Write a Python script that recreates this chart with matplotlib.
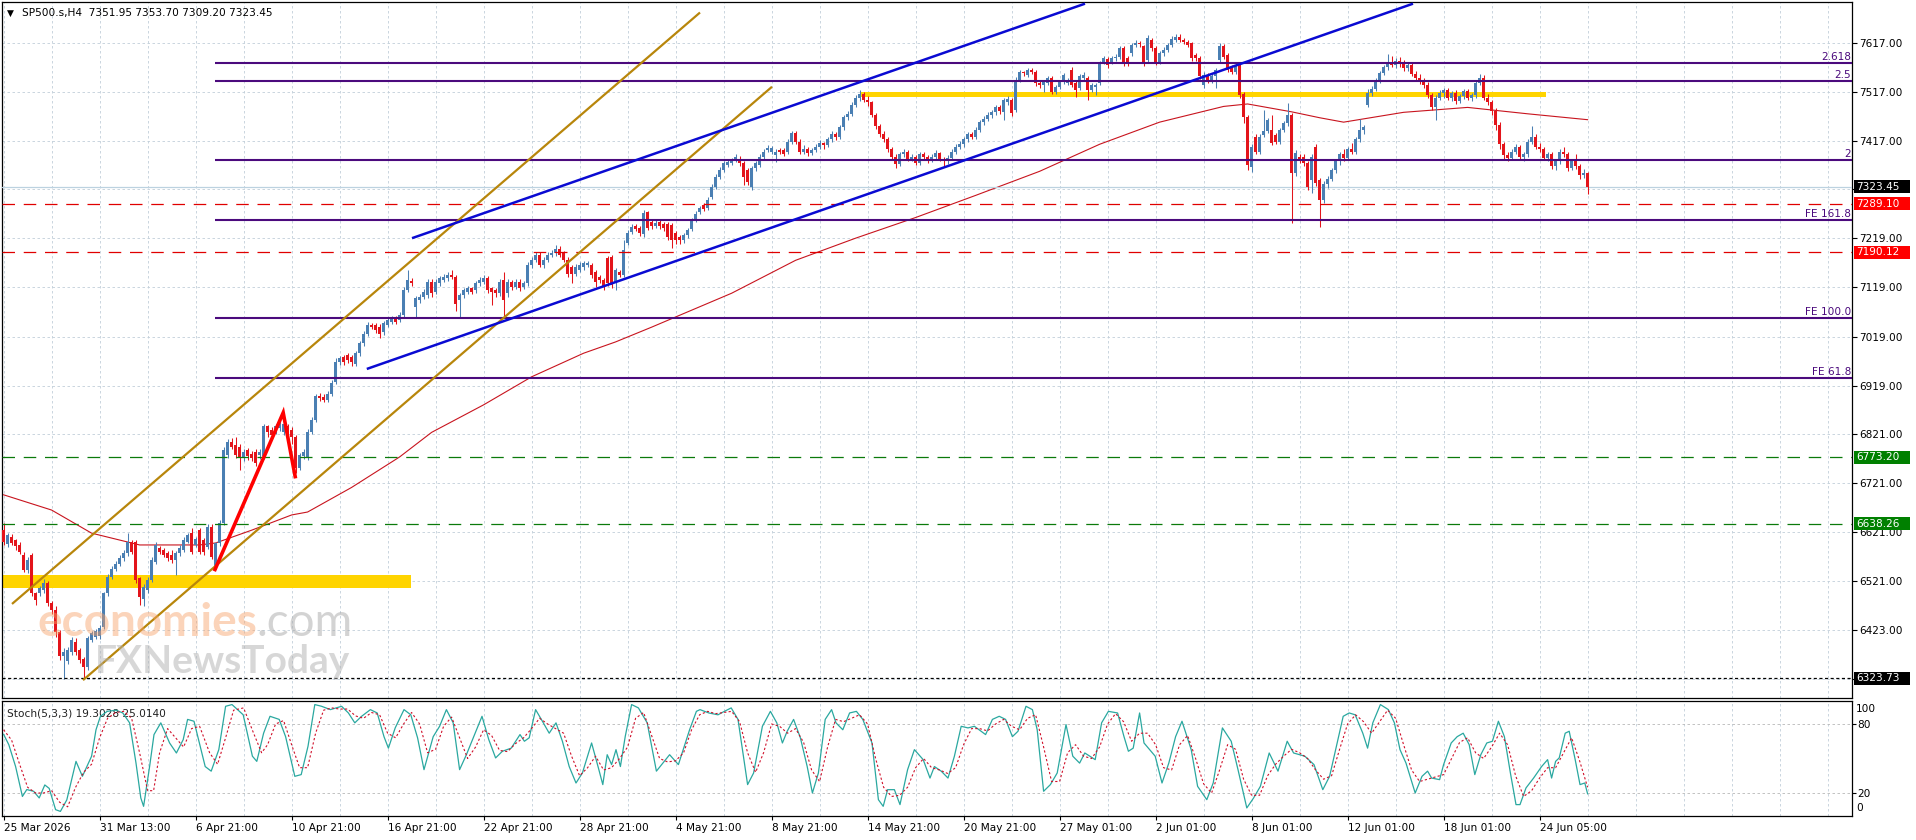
import numpy as np
import matplotlib
matplotlib.use("Agg")
import matplotlib.pyplot as plt
from matplotlib.patches import Rectangle
from matplotlib.transforms import blended_transform_factory

plt.rcParams['font.family'] = ['DejaVu Sans']

# ---------------- data (H4 bars, bar 0 = 25 Mar 2026) ----------------
opens = [
    6625, 6596, 6612, 6605, 6595, 6575, 6545, 6574, 6497, 6497,
    6503, 6517, 6476, 6463, 6418, 6370, 6358, 6378, 6398, 6381,
    6364, 6347, 6402, 6408, 6410, 6428, 6497, 6530, 6547, 6557,
    6568, 6578, 6602, 6602, 6527, 6486, 6503, 6524, 6561, 6588,
    6585, 6578, 6575, 6564, 6578, 6585, 6602, 6619, 6595, 6625,
    6605, 6591, 6632, 6551, 6598, 6640, 6778, 6805, 6798, 6795,
    6771, 6788, 6781, 6785, 6778, 6775, 6836, 6828, 6825, 6832,
    6825, 6836, 6829, 6815, 6752, 6775, 6772, 6825, 6849, 6897,
    6896, 6890, 6903, 6927, 6968, 6978, 6981, 6978, 6964, 6985,
    7005, 7025, 7042, 7042, 7039, 7029, 7042, 7049, 7056, 7052,
    7063, 7114, 7131, 7080, 7093, 7100, 7103, 7130, 7110, 7127,
    7134, 7137, 7144, 7141, 7093, 7103, 7110, 7117, 7114, 7127,
    7130, 7137, 7117, 7114, 7107, 7134, 7107, 7130, 7120, 7130,
    7120, 7127, 7164, 7175, 7185, 7164, 7175, 7185, 7188, 7198,
    7188, 7175, 7161, 7147, 7154, 7161, 7164, 7164, 7151, 7141,
    7134, 7178, 7181, 7127, 7151, 7144, 7210, 7232, 7244, 7240,
    7228, 7272, 7252, 7244, 7252, 7248, 7248, 7245, 7230, 7222,
    7215, 7225, 7238, 7256, 7272, 7286, 7280, 7303, 7324, 7344,
    7358, 7368, 7371, 7378, 7381, 7371, 7358, 7324, 7361, 7368,
    7385, 7398, 7395, 7388, 7398, 7398, 7395, 7415, 7432, 7415,
    7395, 7400, 7392, 7398, 7405, 7412, 7408, 7420, 7430, 7425,
    7445, 7465, 7472, 7490, 7505, 7512, 7500, 7495, 7470, 7448,
    7430, 7420, 7400, 7385, 7370, 7390, 7395, 7380, 7385, 7372,
    7390, 7385, 7378, 7385, 7392, 7380, 7375, 7382, 7395, 7405,
    7410, 7420, 7430, 7425, 7440, 7455, 7462, 7470, 7475, 7485,
    7476, 7497, 7500, 7480, 7541, 7556, 7551, 7561, 7558, 7534,
    7531, 7534, 7544, 7517, 7527, 7537, 7534, 7561, 7534, 7524,
    7544, 7544, 7520, 7527, 7534, 7578, 7583, 7578, 7585, 7588,
    7605, 7585, 7595, 7612, 7617, 7609, 7582, 7622, 7605, 7578,
    7595, 7602, 7612, 7622, 7629, 7622, 7619, 7615, 7592, 7585,
    7531, 7551, 7539, 7548, 7582, 7609, 7592, 7568, 7558, 7571,
    7512, 7466, 7364, 7425, 7395, 7429, 7436, 7439, 7429, 7415,
    7439, 7453, 7470, 7351, 7385, 7385, 7371, 7337, 7405, 7337,
    7297, 7330, 7340, 7358, 7375, 7390, 7382, 7400, 7395, 7420,
    7440, 7490, 7515, 7522, 7540, 7555, 7568, 7578, 7572, 7580,
    7574, 7565, 7572, 7552, 7545, 7538, 7530, 7510, 7485, 7505,
    7515, 7520, 7505, 7515, 7498, 7508, 7518, 7505, 7510, 7535,
    7545, 7505, 7495, 7478, 7450, 7410, 7388, 7382, 7395, 7405,
    7385, 7390, 7415, 7425, 7405, 7400, 7382, 7390, 7365, 7375,
    7395, 7390, 7362, 7375, 7365, 7348, 7351.95,
]
highs = [
    6640, 6620, 6618, 6608, 6600, 6580, 6570, 6578, 6500, 6512,
    6525, 6522, 6480, 6470, 6422, 6385, 6388, 6408, 6405, 6386,
    6368, 6410, 6420, 6425, 6432, 6500, 6535, 6552, 6562, 6575,
    6585, 6619, 6606, 6606, 6530, 6515, 6530, 6570, 6600, 6592,
    6588, 6582, 6585, 6582, 6595, 6612, 6620, 6630, 6612, 6630,
    6610, 6637, 6637, 6600, 6645, 6795, 6810, 6812, 6815, 6800,
    6790, 6792, 6786, 6790, 6790, 6842, 6840, 6835, 6842, 6848,
    6850, 6842, 6835, 6818, 6782, 6790, 6830, 6855, 6903, 6905,
    6902, 6908, 6930, 6975, 6980, 6982, 6986, 6982, 6990, 7010,
    7030, 7048, 7046, 7046, 7044, 7050, 7056, 7060, 7060, 7068,
    7120, 7154, 7138, 7102, 7105, 7115, 7136, 7136, 7135, 7142,
    7146, 7150, 7154, 7145, 7108, 7118, 7122, 7120, 7132, 7140,
    7144, 7142, 7120, 7118, 7135, 7150, 7135, 7134, 7135, 7135,
    7132, 7170, 7180, 7190, 7190, 7180, 7190, 7195, 7205, 7203,
    7193, 7180, 7165, 7166, 7170, 7172, 7172, 7168, 7155, 7145,
    7138, 7182, 7185, 7158, 7155, 7215, 7235, 7247, 7248, 7244,
    7276, 7275, 7256, 7255, 7256, 7252, 7252, 7249, 7234, 7226,
    7230, 7240, 7260, 7274, 7285, 7290, 7302, 7330, 7350, 7363,
    7376, 7380, 7383, 7390, 7386, 7375, 7362, 7366, 7376, 7390,
    7400, 7409, 7407, 7400, 7402, 7402, 7420, 7437, 7438, 7420,
    7408, 7404, 7403, 7410, 7418, 7415, 7425, 7436, 7434, 7450,
    7470, 7478, 7495, 7510, 7520, 7516, 7508, 7498, 7474, 7452,
    7436, 7424, 7404, 7390, 7395, 7400, 7398, 7390, 7388, 7395,
    7394, 7388, 7390, 7398, 7395, 7384, 7388, 7400, 7410, 7416,
    7425, 7435, 7434, 7445, 7460, 7468, 7475, 7480, 7490, 7490,
    7505, 7508, 7505, 7546, 7562, 7560, 7566, 7566, 7562, 7538,
    7541, 7548, 7548, 7531, 7541, 7555, 7545, 7568, 7538, 7552,
    7556, 7548, 7535, 7535, 7580, 7590, 7587, 7590, 7593, 7610,
    7609, 7590, 7616, 7622, 7621, 7612, 7632, 7626, 7609, 7600,
    7607, 7616, 7630, 7634, 7634, 7626, 7623, 7618, 7596, 7590,
    7556, 7555, 7552, 7565, 7615, 7613, 7596, 7572, 7575, 7575,
    7516, 7470, 7410, 7430, 7430, 7480, 7464, 7470, 7433, 7444,
    7458, 7493, 7474, 7398, 7390, 7390, 7375, 7390, 7410, 7342,
    7335, 7345, 7362, 7380, 7395, 7400, 7405, 7412, 7425, 7462,
    7450, 7522, 7528, 7545, 7560, 7572, 7594, 7590, 7585, 7588,
    7582, 7578, 7576, 7560, 7552, 7545, 7536, 7515, 7510, 7520,
    7525, 7524, 7518, 7520, 7512, 7522, 7522, 7515, 7540, 7552,
    7550, 7512, 7500, 7484, 7455, 7415, 7395, 7400, 7410, 7408,
    7395, 7420, 7447, 7430, 7412, 7404, 7395, 7394, 7380, 7400,
    7405, 7395, 7380, 7390, 7370, 7360, 7353.70,
]
lows = [
    6595, 6590, 6594, 6585, 6576, 6540, 6538, 6492, 6473, 6492,
    6498, 6470, 6455, 6408, 6360, 6322, 6352, 6372, 6372, 6355,
    6322, 6340, 6398, 6403, 6404, 6425, 6492, 6525, 6542, 6552,
    6562, 6572, 6576, 6518, 6472, 6470, 6498, 6520, 6556, 6576,
    6570, 6562, 6558, 6534, 6572, 6580, 6598, 6576, 6590, 6576,
    6575, 6586, 6566, 6546, 6592, 6635, 6772, 6790, 6772, 6748,
    6765, 6768, 6765, 6755, 6770, 6770, 6815, 6812, 6820, 6826,
    6818, 6812, 6800, 6742, 6748, 6770, 6768, 6820, 6845, 6888,
    6885, 6885, 6898, 6922, 6962, 6962, 6965, 6960, 6958, 6980,
    7000, 7020, 7034, 7027, 7015, 7022, 7038, 7044, 7045, 7048,
    7058, 7110, 7122, 7059, 7088, 7095, 7098, 7100, 7105, 7122,
    7130, 7132, 7136, 7070, 7059, 7098, 7105, 7105, 7108, 7122,
    7125, 7108, 7083, 7100, 7102, 7059, 7100, 7114, 7115, 7112,
    7115, 7122, 7158, 7170, 7160, 7158, 7170, 7180, 7183, 7180,
    7170, 7140, 7127, 7142, 7150, 7155, 7160, 7138, 7120, 7128,
    7113, 7122, 7118, 7113, 7140, 7140, 7205, 7228, 7233, 7224,
    7222, 7235, 7238, 7240, 7238, 7234, 7216, 7200, 7208, 7208,
    7210, 7220, 7234, 7252, 7268, 7274, 7276, 7298, 7320, 7340,
    7354, 7364, 7367, 7374, 7366, 7327, 7328, 7318, 7356, 7364,
    7380, 7394, 7390, 7374, 7390, 7386, 7390, 7410, 7410, 7390,
    7390, 7386, 7388, 7394, 7400, 7400, 7404, 7415, 7418, 7420,
    7440, 7460, 7468, 7485, 7498, 7495, 7488, 7465, 7442, 7425,
    7415, 7395, 7378, 7362, 7366, 7385, 7375, 7376, 7368, 7368,
    7380, 7372, 7374, 7380, 7375, 7366, 7370, 7378, 7390, 7400,
    7405, 7415, 7420, 7420, 7435, 7450, 7458, 7464, 7470, 7472,
    7459, 7490, 7468, 7475, 7536, 7548, 7546, 7552, 7528, 7525,
    7517, 7530, 7512, 7512, 7522, 7532, 7530, 7526, 7507, 7520,
    7540, 7500, 7516, 7510, 7530, 7574, 7566, 7574, 7580, 7584,
    7570, 7570, 7590, 7608, 7608, 7570, 7578, 7600, 7572, 7573,
    7590, 7598, 7608, 7618, 7618, 7614, 7607, 7580, 7580, 7542,
    7524, 7534, 7534, 7524, 7578, 7583, 7556, 7552, 7553, 7505,
    7453, 7358, 7354, 7390, 7390, 7425, 7432, 7408, 7410, 7410,
    7434, 7448, 7250, 7345, 7372, 7365, 7318, 7310, 7325, 7241,
    7290, 7322, 7335, 7352, 7368, 7375, 7378, 7390, 7390, 7415,
    7430, 7485, 7508, 7518, 7535, 7550, 7562, 7568, 7566, 7568,
    7560, 7560, 7548, 7540, 7532, 7525, 7505, 7480, 7460, 7500,
    7505, 7500, 7498, 7492, 7494, 7502, 7500, 7498, 7505, 7530,
    7500, 7490, 7470, 7440, 7400, 7380, 7375, 7378, 7390, 7380,
    7375, 7385, 7410, 7400, 7395, 7378, 7375, 7360, 7358, 7370,
    7385, 7355, 7358, 7360, 7340, 7342, 7309.20,
]
closes = [
    6600, 6615, 6598, 6592, 6581, 6544, 6565, 6497, 6483, 6507,
    6517, 6476, 6463, 6418, 6370, 6378, 6381, 6402, 6378, 6361,
    6347, 6405, 6415, 6419, 6426, 6497, 6530, 6547, 6557, 6568,
    6578, 6602, 6581, 6524, 6490, 6510, 6524, 6564, 6595, 6581,
    6575, 6568, 6564, 6578, 6588, 6605, 6615, 6581, 6608, 6581,
    6581, 6632, 6571, 6598, 6639, 6788, 6805, 6795, 6778, 6771,
    6785, 6775, 6771, 6761, 6785, 6836, 6825, 6818, 6836, 6842,
    6842, 6819, 6815, 6752, 6778, 6785, 6825, 6849, 6897, 6893,
    6890, 6903, 6924, 6968, 6975, 6968, 6971, 6968, 6985, 7005,
    7025, 7042, 7039, 7032, 7025, 7046, 7052, 7056, 7049, 7063,
    7114, 7134, 7127, 7097, 7100, 7110, 7130, 7107, 7130, 7137,
    7141, 7144, 7141, 7086, 7103, 7114, 7117, 7110, 7127, 7134,
    7137, 7114, 7110, 7107, 7130, 7093, 7130, 7120, 7130, 7117,
    7127, 7164, 7175, 7185, 7164, 7175, 7185, 7188, 7198, 7185,
    7175, 7147, 7147, 7161, 7164, 7168, 7168, 7144, 7130, 7134,
    7120, 7127, 7124, 7154, 7144, 7195, 7230, 7242, 7238, 7230,
    7270, 7240, 7244, 7250, 7244, 7239, 7222, 7215, 7215, 7215,
    7225, 7235, 7256, 7269, 7280, 7279, 7297, 7324, 7344, 7358,
    7371, 7374, 7378, 7385, 7371, 7344, 7334, 7361, 7371, 7385,
    7395, 7402, 7402, 7395, 7395, 7391, 7415, 7432, 7415, 7395,
    7400, 7392, 7398, 7405, 7412, 7408, 7420, 7430, 7425, 7445,
    7465, 7472, 7490, 7505, 7512, 7500, 7495, 7470, 7448, 7430,
    7420, 7400, 7385, 7370, 7390, 7395, 7380, 7385, 7372, 7390,
    7385, 7378, 7385, 7392, 7380, 7375, 7382, 7395, 7405, 7410,
    7420, 7430, 7425, 7440, 7455, 7462, 7470, 7475, 7485, 7478,
    7500, 7503, 7473, 7541, 7558, 7554, 7561, 7558, 7534, 7531,
    7537, 7544, 7517, 7527, 7537, 7551, 7541, 7531, 7520, 7548,
    7551, 7520, 7531, 7531, 7575, 7585, 7571, 7585, 7588, 7605,
    7576, 7575, 7612, 7617, 7614, 7575, 7626, 7605, 7578, 7595,
    7602, 7612, 7625, 7629, 7622, 7619, 7612, 7585, 7585, 7548,
    7551, 7539, 7548, 7561, 7609, 7588, 7561, 7558, 7571, 7510,
    7466, 7368, 7405, 7395, 7425, 7436, 7459, 7412, 7415, 7439,
    7453, 7470, 7351, 7392, 7378, 7371, 7324, 7385, 7331, 7297,
    7330, 7340, 7358, 7375, 7390, 7382, 7400, 7395, 7420, 7440,
    7445, 7515, 7522, 7540, 7555, 7568, 7578, 7572, 7580, 7574,
    7565, 7572, 7552, 7545, 7538, 7530, 7510, 7485, 7505, 7515,
    7520, 7505, 7515, 7498, 7508, 7518, 7505, 7510, 7535, 7545,
    7505, 7495, 7478, 7450, 7410, 7388, 7382, 7395, 7405, 7385,
    7390, 7415, 7425, 7405, 7400, 7382, 7390, 7365, 7375, 7395,
    7390, 7362, 7375, 7365, 7348, 7352, 7323.45,
]

# red moving average, read at a few points (bar index, price)
ma_bars = [0, 12, 22, 34, 49, 53, 62, 72, 76, 87, 99, 107, 120, 132, 145, 153, 162,
           182, 198, 213, 228, 243, 259, 274, 289, 305, 311, 322, 329, 335, 350, 366, 381, 396]
ma_vals = [6697, 6666, 6619, 6595, 6595, 6599, 6625, 6656, 6662, 6712, 6774, 6824, 6880,
           6937, 6985, 7008, 7038, 7107, 7174, 7219, 7261, 7306, 7355, 7410, 7455, 7487,
           7492, 7476, 7464, 7455, 7475, 7485, 7472, 7460]

# stochastic %K (solid) and %D (dotted) read at turning points
k_bars = [0, 1.3, 3, 4.7, 5.8, 7.5, 8.9, 10.3, 11.4, 13, 14.2, 15.8, 18.1, 19.7, 22, 23.1, 24.2,
          25.9, 28.1, 29.8, 31.5, 33.1, 34.3, 35, 36.5, 37.6, 39.3, 41.5, 43.2, 44.9, 46, 47.6,
          50.4, 51.9, 53.8, 55.5, 57.1, 59.9, 62.2, 63.3, 65, 66.6, 68.9, 70.5, 72.8, 74.4, 76.1,
          77.8, 79.5, 81.7, 84.5, 86.2, 87.8, 89.5, 91.7, 93.4, 95.1, 96.2, 97.9, 100.1, 101.8,
          103.5, 105.1, 107.4, 109, 110.7, 112.4, 114, 115.7, 117.4, 119.6, 121.3, 123, 124.7,
          126.9, 129.1, 130.2, 131.4, 133, 134.7, 136.4, 138.1, 139.7, 141.4, 143.1, 144.7, 147,
          148.7, 149.8, 150.9, 152, 153.1, 154.2, 155.4, 157, 158.7, 160.9, 163.2, 164.8, 166.5,
          168.7, 171.5, 173.2, 174.1, 176.3, 178.6, 180.2, 181.9, 183.6, 186, 187.5, 189.7, 191.7,
          193.3, 194.7, 195.9, 197.5, 199.2, 200.9, 202.2, 203.7, 205.4, 207, 208.1, 209.8, 211.5,
          213.2, 214.8, 217.1, 218.7, 219.9, 221, 222.7, 224.1, 226, 227.7, 229.9, 231.6, 232.7,
          234.4, 236.1, 237.7, 239.4, 241.1, 242.7, 244.4, 245.5, 247.2, 248.9, 250.5, 252.2,
          253.6, 255.6, 257.2, 258.4, 260, 261.7, 263.4, 265.6, 267.3, 269, 270.3, 272.9, 274.5,
          276.2, 278.5, 280.1, 281.2, 282.4, 284, 285.1, 287.9, 289.6, 291.3, 293, 294.6, 296.9,
          298.5, 300.8, 302.4, 304.7, 306.9, 308.6, 310.8, 312.5, 314.2, 316.4, 318.6, 320.9,
          322.5, 325.3, 327.6, 329.8, 331.5, 333.4, 334.9, 336.4, 337.9, 339.8, 341, 342.3, 344.2,
          346.2, 347.7, 349.1, 350.6, 352.9, 354.6, 356, 357, 359, 360, 361.9, 363.4, 364.9,
          366.4, 367.8, 369.3, 370.8, 372.2, 373.7, 375.2, 376.7, 378.1, 379.1, 380.6, 382.5,
          384.5, 386, 387, 388, 388.9, 390.4, 391.4, 392.9, 394.1, 395.3, 396]
k_vals = [71, 62, 43, 17, 23, 21.5, 15.7, 27, 24, 5.5, 4, 14, 47.5, 34.5, 52, 75, 86.7,
          91, 92, 89.6, 81, 46, 15.7, 8.4, 43, 70.8, 81, 63.5, 54.8, 66.4, 84, 82.4,
          43, 39, 57.7, 95.4, 96.9, 88, 52, 47.5, 72, 86.7, 84, 69, 34.5, 36, 60.6,
          96.9, 95.4, 92.5, 95.4, 89.6, 81, 86.7, 92.5, 89.6, 69, 59, 76.6, 92.5, 88,
          67.9, 40.3, 69, 78, 92.5, 81, 40.3, 53.3, 67.9, 86.7, 66.4, 50.5, 56.3,
          59, 70.8, 65, 68, 92.5, 82.4, 72, 81, 65, 43, 28.7, 37.4, 63.5,
          41.8, 27.3, 53.3, 44.7, 57.7, 43, 69, 96.9, 94, 81, 39, 46, 53.3,
          44.7, 75, 91, 92.5, 89.6, 88, 91, 94, 84, 27.3, 37.4, 78, 91,
          81, 63.5, 73.7, 84, 67.9, 43, 20, 37.4, 84, 92.5, 81, 75, 89.6,
          91, 84, 63.5, 14.2, 8.4, 22.9, 22.9, 9.9, 40.3, 57.7, 49, 33, 43,
          39, 33, 52, 78, 76.6, 78, 73.7, 70.8, 84, 86.7, 84, 69,
          73.7, 95.4, 92.5, 75, 21.5, 27.3, 37.4, 79.5, 52, 46, 54.8, 49, 81,
          91, 89.6, 69, 56.3, 59, 89.6, 63.5, 52, 28.7, 46, 69, 82.4, 57.7,
          25.8, 14.2, 28.7, 76.6, 65, 40.3, 7, 15.7, 25.8, 54.8, 39, 65,
          54.8, 52, 44.7, 22.9, 34.5, 63.5, 86.7, 89.6, 88, 72, 59, 81, 96.9,
          92.5, 81, 57.7, 46, 20, 34.5, 39, 33, 31.6, 44.7, 63.5, 69, 72,
          62, 36, 53.3, 63.5, 65, 82.4, 69, 37.4, 9.9, 9.9, 24.4, 33,
          43, 49, 33, 47.5, 50.5, 72, 73.7, 49, 27.3, 28.7, 19.3]
d_bars = [0, 2, 4, 6, 8, 10, 12, 14, 16, 18, 20, 22, 24, 26, 28, 30, 32, 34, 36, 37.5, 39,
          41, 43, 45, 47, 49, 51.5, 53.5, 55.5, 57.5, 60, 62.5, 64.5, 66, 68, 70, 72, 74, 76,
          78, 80, 82, 84, 86, 88, 90, 92, 94, 96, 98, 100, 102, 104, 106, 108, 110, 112, 114,
          116, 118, 120, 122, 124, 126, 128, 130, 132, 134, 136, 138, 140, 142, 144, 146, 148,
          150, 152, 154, 156, 158, 160, 162, 164, 166, 168, 170, 172, 174, 176, 178, 180, 182,
          184, 186, 188, 190, 192, 194, 196, 198, 200, 202, 204, 206, 208, 210, 212, 214, 216,
          218, 220, 222, 224, 226, 228, 230, 232, 234, 236, 238, 240, 242, 244, 246, 248, 250,
          252, 254, 256, 258, 260, 262, 264, 266, 268, 270, 272, 274, 276, 278, 280, 282, 284,
          286, 288, 290, 292, 294, 296, 298, 300, 302, 304, 306, 308, 310, 312, 314, 316, 318,
          320, 322, 324, 326, 328, 330, 332, 334, 336, 338, 340, 342, 344, 346, 348, 350, 352,
          354, 356, 358, 360, 362, 364, 366, 368, 370, 372, 374, 376, 378, 380, 382, 384, 386,
          388, 390, 392, 394, 396]
d_vals = [75, 66, 45, 25, 20, 20, 22, 12, 8, 25, 38, 45, 68, 85, 90, 91, 85, 55, 22, 22, 55,
          76, 68, 60, 76, 78, 55, 45, 68, 92, 94, 72, 55, 62, 80, 83, 62, 42, 42,
          72, 92, 94, 93, 93, 87, 85, 90, 88, 72, 68, 80, 90, 80, 55, 58, 78, 86, 68,
          50, 60, 75, 70, 57, 56, 63, 68, 76, 85, 80, 76, 72, 52, 35, 42, 52,
          40, 42, 50, 60, 85, 90, 70, 50, 47, 48, 55, 75, 88, 91, 89, 90, 91,
          82, 55, 38, 55, 80, 78, 72, 76, 64, 40, 30, 60, 84, 82, 85, 88, 80,
          50, 25, 17, 18, 25, 42, 50, 42, 40, 37, 42, 62, 76, 76, 74, 80, 84,
          78, 75, 85, 88, 60, 30, 30, 55, 62, 52, 50, 60, 80, 89, 82, 65, 72,
          72, 62, 42, 40, 62, 70, 50, 28, 20, 40, 62, 58, 32, 18, 18, 35, 45,
          52, 58, 55, 50, 40, 32, 35, 58, 80, 88, 82, 72, 82, 92, 85, 62, 40,
          30, 32, 34, 36, 50, 64, 68, 55, 50, 60, 72, 62, 35, 17, 22, 33, 42,
          42, 55, 68, 48, 25]

# drawn objects
fe_levels = [7576, 7539, 7378, 7255, 7057, 6935]
fe_labels = ['2.618', '2.5', '2', 'FE 161.8', 'FE 100.0', 'FE 61.8']
fe_start = 52.85
red_levels = [7289.10, 7190.12]
green_levels = [6773.20, 6638.26]
low_level = 6323.73
last_price = 7323.45
channel_upper = ([2.1, 174.1], [6475, 7678])
channel_lower = ([19.85, 192.1], [6320, 7527])
blue_upper = ([102.1, 270.35], [7219, 7696])
blue_lower = ([90.8, 352.35], [6953, 7696])
zigzag = ([52.85, 69.9, 72.9], [6545, 6864, 6734])
zone_low = (-0.4, 101.8, 6520, 26)      # x0, x1, centre price, thickness
zone_high = (214.4, 385.6, 7512, 10)

price_ticks = [7617, 7517, 7417, 7319, 7219, 7119, 7019, 6919, 6821, 6721, 6621, 6521, 6423, 6323]
date_labels = ['25 Mar 2026', '31 Mar 13:00', '6 Apr 21:00', '10 Apr 21:00', '16 Apr 21:00',
               '22 Apr 21:00', '28 Apr 21:00', '4 May 21:00', '8 May 21:00', '14 May 21:00',
               '20 May 21:00', '27 May 01:00', '2 Jun 01:00', '8 Jun 01:00', '12 Jun 01:00',
               '18 Jun 01:00', '24 Jun 05:00']

# ---------------- figure ----------------
W, H = 1916, 840
fig = plt.figure(figsize=(W / 100, H / 100), dpi=100)
fig.patch.set_facecolor('white')
ax = fig.add_axes([2 / W, 1 - 698 / H, 1850 / W, 696 / H])
ax2 = fig.add_axes([2 / W, 1 - 816 / H, 1850 / W, 115 / H], sharex=ax)

XMAX = 462.1
ax.set_xlim(-0.4, XMAX)
ax.set_ylim(6283.7, 7699.4)
ax2.set_ylim(0, 100)

BULL = '#4a7fb3'
BEAR = '#e3141b'
GRID = '#c2cfd9'
FS = 7.6

for a in (ax, ax2):
    for s in a.spines.values():
        s.set_linewidth(0.9)
        s.set_color('black')
    a.set_xticks(np.arange(0, XMAX, 12), minor=True)
    a.grid(True, which='both', axis='x', color=GRID, lw=0.6, ls=(0, (3, 3)))

ax.set_xticks(np.arange(0, 24 * len(date_labels), 24))
ax.tick_params(axis='x', which='both', length=0, labelbottom=False)

# price axis on the right
ax.yaxis.tick_right()
ax.set_yticks(price_ticks)
ax.set_yticklabels(['%.2f' % p for p in price_ticks])
ax.tick_params(axis='y', length=3.5, width=0.8, pad=2, labelsize=FS)
ax.grid(True, axis='y', color=GRID, lw=0.6, ls=(0, (3, 3)))

# moving average
ax.plot(ma_bars, ma_vals, color='#c8141e', lw=0.8, zorder=3)

# zones (behind candles)
for x0, x1, yc, th in (zone_low, zone_high):
    ax.add_patch(Rectangle((x0, yc - th / 2), x1 - x0, th, facecolor='#ffd400',
                           edgecolor='none', zorder=2))

# candles
o = np.array(opens, float)
h = np.array(highs, float)
l = np.array(lows, float)
c = np.array(closes, float)
x = np.arange(len(c))
cols = np.where(c >= o, BULL, BEAR)
ax.vlines(x, l, h, colors=cols, lw=0.75, zorder=4)
ax.bar(x, np.maximum(np.abs(c - o), 1.2), bottom=np.minimum(o, c), width=0.74,
       color=cols, linewidth=0, zorder=4)

# horizontal lines
ax.hlines(fe_levels, fe_start, XMAX, colors='#4b0a7d', lw=1.5, zorder=5)
bt = blended_transform_factory(ax.transAxes, ax.transData)
for lev, lab in zip(fe_levels, fe_labels):
    ax.text(0.9995, lev + 2, lab, transform=bt, ha='right', va='bottom',
            fontsize=FS, color='#4b0a7d', zorder=6)
for lev in red_levels:
    ax.axhline(lev, color='#e00000', lw=0.9, ls=(0, (10, 7)), zorder=5)
for lev in green_levels:
    ax.axhline(lev, color='#0b7a0b', lw=0.9, ls=(0, (10, 7)), zorder=5)
ax.axhline(low_level, color='black', lw=0.9, ls=(0, (2.5, 2)), zorder=5)
ax.axhline(last_price, color='#bcd2e0', lw=0.9, zorder=3)

# trend lines / channel / zigzag
for xs, ys in (channel_upper, channel_lower):
    ax.plot(xs, ys, color='#b8860b', lw=1.6, zorder=6, solid_capstyle='butt')
for xs, ys in (blue_upper, blue_lower):
    ax.plot(xs, ys, color='#0a0ad2', lw=1.8, zorder=6, solid_capstyle='butt')
ax.plot(zigzag[0], zigzag[1], color='#ff0000', lw=2.6, zorder=7, solid_joinstyle='miter')

# price boxes on the right axis
box_w = 56 / 1850
box_h = 13 * 2.034
for lev, fc in ((last_price, 'black'), (red_levels[0], '#ff0000'), (red_levels[1], '#ff0000'),
                (green_levels[0], '#008000'), (green_levels[1], '#008000'), (low_level, 'black')):
    ax.add_patch(Rectangle((1 + 2 / 1850, lev - box_h / 2), box_w, box_h, transform=bt,
                           facecolor=fc, edgecolor='none', clip_on=False, zorder=8))
    ax.text(1 + 4 / 1850, lev, '%.2f' % lev, transform=bt, ha='left', va='center',
            fontsize=FS, color='white', clip_on=False, zorder=9)

# stochastic panel
ax2.plot(k_bars, k_vals, color='#2aa8a0', lw=0.9, zorder=4)
ax2.plot(d_bars, d_vals, color='#d0102a', lw=0.8, ls=(0, (2, 2)), zorder=4)
ax2.set_yticks([80, 20])
ax2.set_yticklabels(['80', '20'])
ax2.yaxis.tick_right()
ax2.tick_params(axis='y', length=3, width=0.8, pad=0.5, labelsize=FS)
ax2.grid(True, axis='y', color='#b8b8b8', lw=0.6, ls=(0, (3, 3)))
bt2 = blended_transform_factory(ax2.transAxes, ax2.transData)
ax2.text(1 + 4 / 1850, 93, '100', transform=bt2, ha='left', va='center', fontsize=FS)
ax2.text(1 + 4 / 1850, 7, '0', transform=bt2, ha='left', va='center', fontsize=FS)
ax2.text(5 / 1850, 89, 'Stoch(5,3,3) 19.3028 25.0140', transform=bt2, ha='left',
         va='center', fontsize=FS, color='#202020')

ax2.set_xticks(np.arange(0, 24 * len(date_labels), 24))
ax2.set_xticklabels(date_labels, ha='left', fontsize=FS)
ax2.tick_params(axis='x', which='major', length=3, width=0.8, pad=2)
ax2.tick_params(axis='x', which='minor', length=0)

# chart header
fig.text(7 / W, 1 - 13 / H, '\u25bc', fontsize=6.5, va='center', ha='left')
fig.text(22 / W, 1 - 13 / H, 'SP500.s,H4  7351.95 7353.70 7309.20 7323.45',
         fontsize=FS, va='center', ha='left')

# watermark
renderer = fig.canvas.get_renderer()
t1 = fig.text(37 / W, 1 - 636 / H, 'economies', fontsize=33, family='Lato',
              fontweight='bold', color='#f7a066', alpha=0.45, va='baseline', zorder=10)
bb = t1.get_window_extent(renderer)
fig.text(bb.x1 / W, 1 - 636 / H, '.com', fontsize=33, family='Lato',
         color='#a8a8a8', alpha=0.5, va='baseline', zorder=10)
fig.text(95 / W, 1 - 673 / H, 'FXNewsToday', fontsize=28, family='Lato',
         fontweight='bold', color='#b0b0b0', alpha=0.5, va='baseline', zorder=10)

fig.savefig('out.png', dpi=100, facecolor='white')
